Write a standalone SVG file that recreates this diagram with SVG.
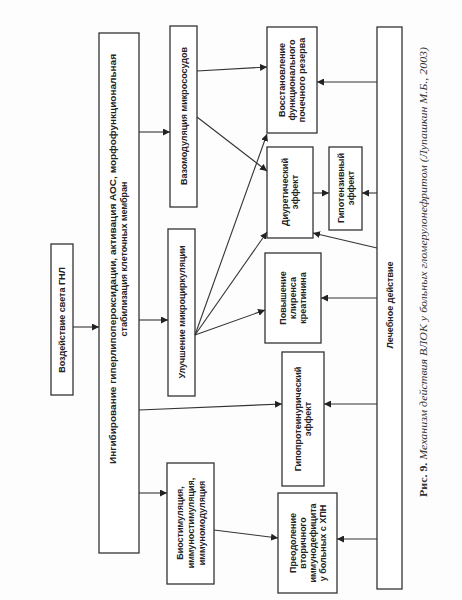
<svg xmlns="http://www.w3.org/2000/svg" width="462" height="600" viewBox="0 0 462 600">
<defs>
<marker id="ah" viewBox="0 0 10 10" refX="10" refY="5" markerWidth="7" markerHeight="7" markerUnits="userSpaceOnUse" orient="auto">
<path d="M0,0 L10,5 L0,10 z" fill="#222"/>
</marker>
<style>
.box{fill:#fff;stroke:#333;stroke-width:1.3}
.t{font-family:"Liberation Sans",Arial,sans-serif;font-size:9px;font-weight:bold;fill:#222;text-anchor:middle}
.c{stroke:#333;stroke-width:1.1;fill:none;marker-end:url(#ah)}
.cap{font-family:"Liberation Serif","Times New Roman",serif;font-size:10px;fill:#333;text-anchor:middle}
</style>
</defs>
<rect width="462" height="600" fill="#fdfdfd"/>

<g id="n_vozd">
<rect class="box" x="51" y="244" width="22" height="151"/>
<text class="t" transform="translate(62,320) rotate(-90)" y="3">Воздействие света ГНЛ</text>
</g>

<g id="n_ingib">
<rect class="box" x="99" y="33" width="40" height="520"/>
<text class="t" transform="translate(119,259) rotate(-90)" y="-3" textLength="410" lengthAdjust="spacingAndGlyphs">Ингибирование гиперлипопероксидации, активация АОС, морфофункциональная</text>
<text class="t" transform="translate(119,259) rotate(-90)" y="8">стабилизация клеточных мембран</text>
</g>

<g id="n_vazo">
<rect class="box" x="170" y="26" width="27" height="181"/>
<text class="t" transform="translate(183.5,116) rotate(-90)" y="3">Вазомодуляция микрососудов</text>
</g>

<g id="n_uluch">
<rect class="box" x="168" y="229" width="27" height="167"/>
<text class="t" transform="translate(181.5,312) rotate(-90)" y="3">Улучшение микроциркуляции</text>
</g>

<g id="n_bio">
<rect class="box" x="167" y="463" width="47" height="121"/>
<text class="t" transform="translate(190.5,523) rotate(-90)"><tspan x="0" y="-8">Биостимуляция,</tspan><tspan x="0" y="3">иммуностимуляция,</tspan><tspan x="0" y="14">иммуномодуляция</tspan></text>
</g>

<g id="n_vosst">
<rect class="box" x="267" y="27" width="50" height="106"/>
<text class="t" transform="translate(292,80) rotate(-90)"><tspan x="0" y="-7">Восстановление</tspan><tspan x="0" y="3">функционального</tspan><tspan x="0" y="13">почечного резерва</tspan></text>
</g>

<g id="n_diur">
<rect class="box" x="267" y="147" width="46" height="91"/>
<text class="t" transform="translate(290,192) rotate(-90)"><tspan x="0" y="-2">Диуретический</tspan><tspan x="0" y="8">эффект</tspan></text>
</g>

<g id="n_gipoten">
<rect class="box" x="329" y="147" width="33" height="83"/>
<text class="t" transform="translate(345.5,188) rotate(-90)"><tspan x="0" y="-2">Гипотензивный</tspan><tspan x="0" y="8">эффект</tspan></text>
</g>

<g id="n_povysh">
<rect class="box" x="265" y="253" width="56" height="90"/>
<text class="t" transform="translate(293,298) rotate(-90)"><tspan x="0" y="-7">Повышение</tspan><tspan x="0" y="3">клиренса</tspan><tspan x="0" y="13">креатинина</tspan></text>
</g>

<g id="n_gipoprot">
<rect class="box" x="282" y="352" width="42" height="134"/>
<text class="t" transform="translate(303,419) rotate(-90)"><tspan x="0" y="-2">Гипопротеинурический</tspan><tspan x="0" y="8">эффект</tspan></text>
</g>

<g id="n_preod">
<rect class="box" x="278" y="493" width="59" height="100"/>
<text class="t" transform="translate(307.5,543) rotate(-90)"><tspan x="0" y="-12">Преодоление</tspan><tspan x="0" y="-2">вторичного</tspan><tspan x="0" y="8">иммунодефицита</tspan><tspan x="0" y="18">у больных с ХПН</tspan></text>
</g>

<g id="n_lech">
<rect class="box" x="377" y="27" width="25" height="562"/>
<text class="t" transform="translate(389.5,305) rotate(-90)" y="3">Лечебное действие</text>
</g>

<g id="connectors">
<line class="c" x1="73" y1="327" x2="99" y2="327"/>
<line class="c" x1="139" y1="132" x2="170" y2="132"/>
<line class="c" x1="139" y1="320" x2="168" y2="320"/>
<line class="c" x1="139" y1="493" x2="167" y2="493"/>
<line class="c" x1="139" y1="410" x2="282" y2="404"/>
<line class="c" x1="197" y1="71" x2="267" y2="67"/>
<line class="c" x1="197" y1="117" x2="267" y2="171"/>
<line class="c" x1="195" y1="335" x2="267" y2="134"/>
<line class="c" x1="195" y1="335" x2="267" y2="232"/>
<line class="c" x1="195" y1="335" x2="265" y2="310"/>
<line class="c" x1="214" y1="530" x2="278" y2="538"/>
<line class="c" x1="313" y1="193" x2="329" y2="193"/>
<line class="c" x1="377" y1="82" x2="317" y2="82"/>
<line class="c" x1="377" y1="193" x2="362" y2="193"/>
<line class="c" x1="377" y1="248" x2="313" y2="233"/>
<line class="c" x1="377" y1="298" x2="321" y2="298"/>
<line class="c" x1="377" y1="404" x2="324" y2="404"/>
<line class="c" x1="377" y1="539" x2="337" y2="539"/>
</g>

<text class="cap" transform="translate(424,272) rotate(-90)" y="3" textLength="450" lengthAdjust="spacingAndGlyphs"><tspan font-weight="bold">Рис. 9.</tspan> <tspan font-style="italic">Механизм действия ВЛОК у больных гломерулонефритом (Лупашкин М.Б., 2003)</tspan></text>
</svg>
